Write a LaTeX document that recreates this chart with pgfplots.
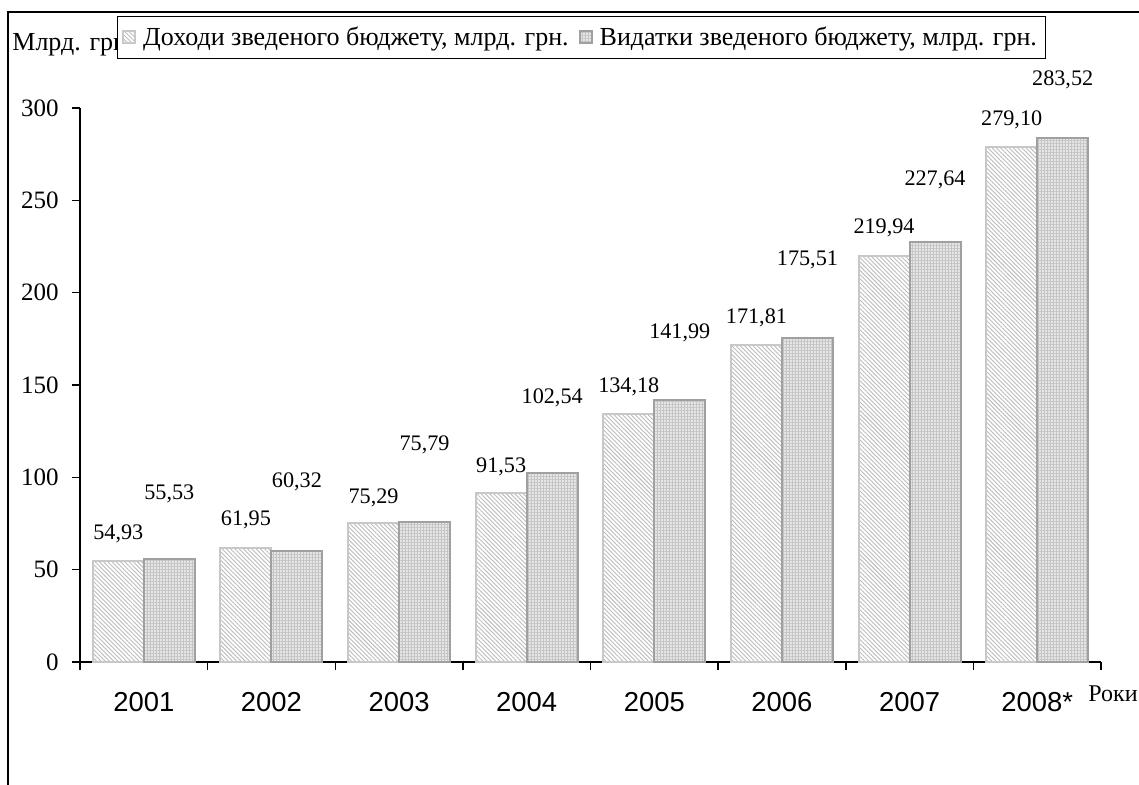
\documentclass[border=0pt]{standalone}
\usepackage{fontspec}
\setmainfont{Liberation Serif}
\newfontfamily\arialfont{Liberation Sans}
\usepackage{pgfplots}
\pgfplotsset{compat=1.18}
\usepackage{pgfplotstable}
\usetikzlibrary{patterns.meta}

\definecolor{hatchgray}{HTML}{BCBCBC}
\definecolor{incomeedge}{HTML}{C8C8C8}
\definecolor{spendfill}{HTML}{E6E6E6}
\definecolor{gridgray}{HTML}{C4C4C4}
\definecolor{spendedge}{HTML}{A0A0A0}

% year index, value, label lift above the bar top (pt)
\pgfplotstableread{
x y off
0 54.93 13.5
1 61.95 14
2 75.29 12.5
3 91.53 13
4 134.18 13.5
5 171.81 13.5
6 219.94 14
7 279.10 13.5
}\income
\pgfplotstableread{
x y off
0 55.53 33
1 60.32 34.5
2 75.79 38.5
3 102.54 37.5
4 141.99 33.5
5 175.51 39
6 227.64 31
7 283.52 29.5
}\spending

\begin{document}
\begin{tikzpicture}
\useasboundingbox (0pt,0pt) rectangle (569.5pt,-392.5pt);
\draw[line width=1pt] (4pt,-392.5pt) -- (4pt,-6pt) -- (569.5pt,-6pt);
\node[anchor=west, inner sep=0pt, font=\fontsize{13}{15}\selectfont] at (6pt,-22.5pt) {Млрд. грн.};
\begin{axis}[
  at={(40pt,-331pt)}, anchor=south west,
  scale only axis, width=510.5pt, height=277pt,
  xmin=-0.5, xmax=7.5, ymin=0, ymax=300,
  axis x line*=bottom, axis y line*=left,
  axis line style={line width=0.75pt, black, -},
  ytick={0,50,...,300},
  xtick={-0.5,0.5,...,7.5},
  xticklabels={2001,2002,2003,2004,2005,2006,2007,2008*},
  x tick label as interval,
  tick align=outside, major tick length=4pt,
  tick style={black, line width=0.75pt},
  yticklabel style={font=\fontsize{12.5}{14}\selectfont, anchor=east, inner sep=0pt, xshift=-6.5pt},
  xticklabel style={font=\arialfont\fontsize{13.7}{15}\selectfont, anchor=north, inner sep=0pt, yshift=-11pt},
  /pgf/number format/assume math mode=true,
  ybar=0pt, bar width=25.5pt,
  nodes near coords={\pgfmathprintnumber[fixed,fixed zerofill,precision=2,use comma]{\pgfplotspointmeta}},
  visualization depends on={\thisrow{off} \as \off},
  every node near coord/.append style={anchor=center, inner sep=0pt, yshift=\off pt, font=\fontsize{11.1}{12}\selectfont, black},
  legend style={at={(0.036,1.166)}, anchor=north west, legend columns=2,
    draw=black, line width=0.5pt, fill=white,
    font=\fontsize{13}{15}\selectfont, inner xsep=2.5pt, inner ysep=3pt,
    /tikz/every even column/.append style={column sep=3pt}},
  legend image code/.code={\draw[#1] (0pt,-3pt) rectangle (6pt,3pt); \path (7.5pt,0pt);},
  clip=false,
]
\addplot[draw=incomeedge, line width=1pt, fill=white,
  postaction={pattern={Lines[angle=-45,distance=1.5pt,line width=0.45pt]}, pattern color=hatchgray}]
  table[x=x, y=y] {\income};
\addlegendentry{Доходи зведеного бюджету, млрд. грн.}
\addplot[draw=spendedge, line width=1pt, fill=spendfill,
  postaction={pattern={Hatch[angle=0,distance=1.5pt,line width=0.35pt]}, pattern color=gridgray}]
  table[x=x, y=y] {\spending};
\addlegendentry{Видатки зведеного бюджету, млрд. грн.}
\end{axis}
\node[anchor=center, inner sep=0pt, font=\fontsize{12}{13}\selectfont] at (556.5pt,-347pt) {Роки};
\end{tikzpicture}
\end{document}
